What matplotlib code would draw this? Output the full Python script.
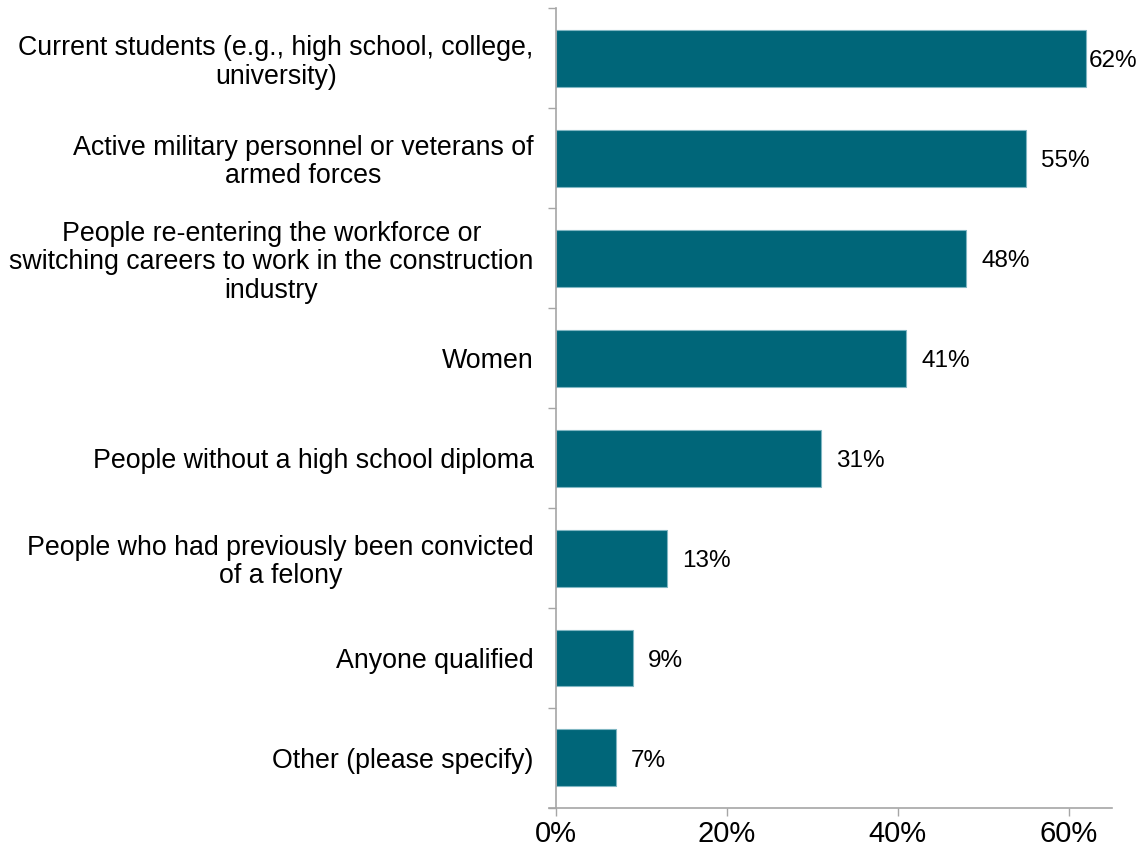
import matplotlib
matplotlib.use("Agg")
import matplotlib.pyplot as plt
from matplotlib.ticker import FixedLocator, PercentFormatter

plt.rcParams['font.family'] = ['Liberation Sans', 'DejaVu Sans']

categories = [
    "Current students (e.g., high school, college,\nuniversity)",
    "Active military personnel or veterans of\narmed forces",
    "People re-entering the workforce or\nswitching careers to work in the construction\nindustry",
    "Women",
    "People without a high school diploma",
    "People who had previously been convicted\nof a felony",
    "Anyone qualified",
    "Other (please specify)",
]
values = [62, 55, 48, 41, 31, 13, 9, 7]
x_ticks = [0, 20, 40, 60]

bar_color = "#006679"
axis_color = "#a6a6a6"

fig = plt.figure(figsize=(11.39, 8.55), dpi=100)
ax = fig.add_axes([0.488, 0.055, 0.488, 0.9355])

n = len(categories)
ypos = list(range(n))
ax.barh(ypos, values, height=0.57, color=bar_color,
        edgecolor="#7fb6c2", linewidth=0.8, zorder=2)

ax.set_ylim(n - 0.5, -0.5)
ax.set_xlim(0, 65)

# category labels
ax.set_yticks(ypos)
ax.set_yticklabels(categories, fontsize=19.3, multialignment="center",
                   linespacing=1.12)
ax.tick_params(axis="y", which="major", length=0, pad=16)
ax.yaxis.set_minor_locator(FixedLocator([i - 0.5 for i in range(n + 1)]))
ax.tick_params(axis="y", which="minor", length=6, width=1, color=axis_color,
               direction="out")

ax.set_xticks(x_ticks)
ax.xaxis.set_major_formatter(PercentFormatter(decimals=0))
ax.tick_params(axis="x", length=6, width=1, color=axis_color, direction="out",
               labelsize=21, pad=3)

for side in ["top", "right"]:
    ax.spines[side].set_visible(False)
for side in ["left", "bottom"]:
    ax.spines[side].set_color(axis_color)
    ax.spines[side].set_linewidth(1.2)
ax.spines["bottom"].set_bounds(-0.8, 65)

# value labels next to the bars, kept inside the figure
labels = []
for y, v in zip(ypos, values):
    t = ax.annotate(f"{v}%", xy=(v, y), xytext=(11, -2), textcoords="offset points",
                    ha="left", va="center", fontsize=17.5, color="#000000")
    labels.append(t)

fig.canvas.draw()
renderer = fig.canvas.get_renderer()
fig_w = fig.bbox.width
for t in labels:
    bb = t.get_window_extent(renderer)
    overflow = bb.x1 - (fig_w - 2)
    if overflow > 0:
        ox, oy = t.xyann
        t.xyann = (ox - overflow * 72.0 / fig.dpi, oy)

fig.savefig("out.png", dpi=100, facecolor="white")
